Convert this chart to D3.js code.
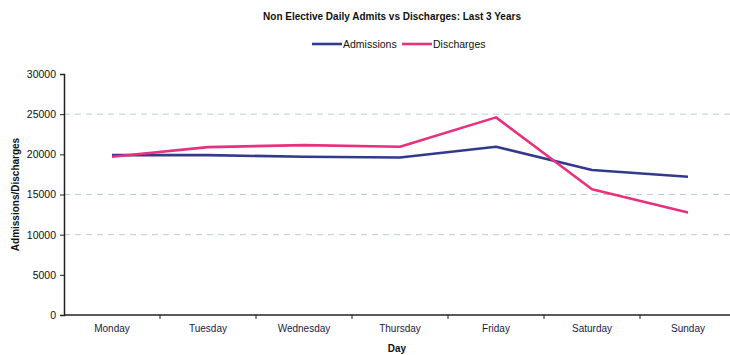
<!DOCTYPE html>
<html>
<head>
<meta charset="utf-8">
<script src="https://cdn.jsdelivr.net/npm/d3@7"></script>
<style>
  html, body { margin: 0; padding: 0; background: #fff; }
  svg { display: block; font-family: "Liberation Sans", Arial, sans-serif; }
</style>
</head>
<body>
<svg id="chart" width="730" height="355"></svg>
<script>
// Weekly pattern of non-elective admissions and discharges
const days = ["Monday", "Tuesday", "Wednesday", "Thursday", "Friday", "Saturday", "Sunday"];
const admissions = [19900, 19900, 19700, 19600, 20950, 18050, 17200];
const discharges = [19700, 20900, 21150, 20950, 24600, 15650, 12750];
const yTicks = [0, 5000, 10000, 15000, 20000, 25000, 30000];
const gridValues = [10000, 15000, 25000];
const seriesNames = ["Admissions", "Discharges"];
const seriesColors = ["#333a8c", "#e8307e"];

const svg = d3.select("#chart");
const margin = { left: 64, top: 74, right: -6, bottom: 40 };
const W = 730, H = 355;

const x = d3.scaleBand().domain(days).range([margin.left, W - margin.right]).padding(0);
const y = d3.scaleLinear().domain([0, 30000]).range([H - margin.bottom, margin.top]);

// Dashed gridlines
svg.append("g").selectAll("line").data(gridValues).join("line")
  .attr("x1", margin.left).attr("x2", W)
  .attr("y1", d => y(d)).attr("y2", d => y(d))
  .attr("stroke", "#b9cdd9").attr("stroke-width", 1)
  .attr("stroke-dasharray", "6,5");

// Y axis
const yAxis = svg.append("g").attr("transform", `translate(${margin.left},0)`)
  .call(d3.axisLeft(y).tickValues(yTicks).tickSize(4).tickPadding(4).tickFormat(d3.format("d")));
yAxis.select(".domain").attr("stroke", "#222").attr("stroke-width", 1.5);
yAxis.selectAll(".tick line").attr("stroke", "#222");
yAxis.selectAll("text").attr("font-size", 10.5).attr("fill", "#111");

// X axis with ticks at band edges
const xAxisG = svg.append("g").attr("transform", `translate(0,${y(0)})`);
xAxisG.append("line").attr("x1", margin.left).attr("x2", W)
  .attr("stroke", "#222").attr("stroke-width", 1.5);
xAxisG.selectAll(".edge").data(days).join("line").attr("class", "edge")
  .attr("x1", d => x(d) + x.bandwidth()).attr("x2", d => x(d) + x.bandwidth())
  .attr("y1", 0).attr("y2", 4).attr("stroke", "#222");
xAxisG.selectAll(".lbl").data(days).join("text").attr("class", "lbl")
  .attr("x", d => x(d) + x.bandwidth() / 2).attr("y", 17)
  .attr("text-anchor", "middle").attr("font-size", 10).attr("fill", "#1a1a4a")
  .text(d => d);

// Lines
const line = d3.line().x((d, i) => x(days[i]) + x.bandwidth() / 2).y(d => y(d));
[admissions, discharges].forEach((vals, k) => {
  svg.append("path").datum(vals)
    .attr("d", line).attr("fill", "none")
    .attr("stroke", seriesColors[k]).attr("stroke-width", 2.6)
    .attr("stroke-linejoin", "round");
});

// Title
svg.append("text").attr("x", 392).attr("y", 20).attr("text-anchor", "middle")
  .attr("font-size", 10).attr("font-weight", "bold").attr("fill", "#111")
  .text("Non Elective Daily Admits vs Discharges: Last 3 Years");

// Legend
const legend = svg.append("g").attr("transform", "translate(312,44)");
const legX = [0, 90];
seriesNames.forEach((name, k) => {
  const g = legend.append("g").attr("transform", `translate(${legX[k]},0)`);
  g.append("line").attr("x1", 0).attr("x2", 30).attr("y1", 0).attr("y2", 0)
    .attr("stroke", seriesColors[k]).attr("stroke-width", 2.6);
  g.append("text").attr("x", 31).attr("y", 4).attr("font-size", 10.5).attr("fill", "#111").text(name);
});

// Axis titles
svg.append("text").attr("transform", `translate(19,${(y(0) + y(30000)) / 2}) rotate(-90)`)
  .attr("text-anchor", "middle").attr("font-size", 10).attr("font-weight", "bold")
  .attr("fill", "#111").text("Admissions/Discharges");
svg.append("text").attr("x", 397).attr("y", 352).attr("text-anchor", "middle")
  .attr("font-size", 10).attr("font-weight", "bold").attr("fill", "#111").text("Day");
</script>
</body>
</html>
